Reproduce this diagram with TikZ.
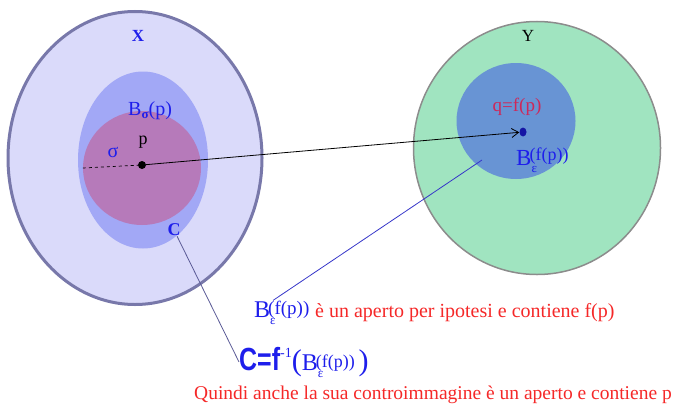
\documentclass[tikz,border=0pt]{standalone}
\usepackage{fontspec}
\setmainfont{Liberation Serif}
\newfontfamily\condsans[FakeStretch=0.78]{Liberation Sans}
\usetikzlibrary{arrows.meta, positioning, shapes.geometric}

\definecolor{setXfill}{RGB}{218,218,250}
\definecolor{setXline}{RGB}{120,120,170}
\definecolor{ballCfill}{RGB}{162,168,246}
\definecolor{ballSfill}{RGB}{182,122,186}
\definecolor{setYfill}{RGB}{160,228,192}
\definecolor{setYline}{RGB}{140,140,140}
\definecolor{ballEfill}{RGB}{104,148,212}
\definecolor{lblblue}{RGB}{30,30,235}
\definecolor{lblred}{RGB}{245,40,40}
\definecolor{qred}{RGB}{205,40,90}
\definecolor{linkblue}{RGB}{90,90,150}

\newcommand{\fs}[1]{\fontsize{#1}{#1}\selectfont}
\newcommand{\Beps}[3]{B\rlap{\raisebox{-#2pt}{\fs{13}ε}}\kern-2pt\raisebox{#3pt}{\fs{#1}(f(p))}}

\begin{document}
\begin{tikzpicture}[
    x=1pt, y=-1pt,
    set/.style={ellipse, inner sep=0pt},
    lbl/.style={inner sep=0pt, text=lblblue},
    link/.style={draw=linkblue, line width=0.8pt},
    maparrow/.style={-{Straight Barb[length=7pt, width=9pt]}, line width=0.8pt}
]
    \useasboundingbox (0,0) rectangle (679,404);

    % spazio X
    \node[set, draw=setXline, line width=3pt, fill=setXfill, minimum width=254pt, minimum height=293pt] (X) at (135,158) {};
    \node[set, fill=ballCfill, minimum width=130pt, minimum height=177pt] (C) at (143,160) {};
    \node[set, fill=ballSfill, minimum width=118pt, minimum height=114pt] (Bs) at (142,168) {};
    \node[circle, fill=black, inner sep=0pt, minimum size=8pt] (p) at (142,165) {};
    \draw[dashed, line width=0.7pt] (Bs.west) -- (p);

    \node[lbl, font=\fs{17}\bfseries] (Xlab) at (138,36) {X};
    \node[lbl, font=\fs{20}, anchor=base west] (Bslab) at (128,115) {B\raisebox{-3pt}{\fs{13}\bfseries σ}(p)};
    \node[lbl, font=\fs{20}] (sig) at (113,152) {σ};
    \node[inner sep=0pt, font=\fs{18}] (plab) at (143,142) {p};
    \node[lbl, font=\fs{18}\bfseries] (Clab) at (174,230) {C};

    % spazio Y
    \node[set, draw=setYline, line width=1.5pt, fill=setYfill, minimum width=247pt, minimum height=253pt] (Y) at (537,148) {};
    \node[set, fill=ballEfill, minimum width=119pt, minimum height=116pt] (Be) at (516,121) {};
    \node[ellipse, fill=lblblue!70!black, inner sep=0pt, minimum width=7pt, minimum height=9pt] (q) at (523,132) {};
    \coordinate (tip) at (482,160);

    \node[inner sep=0pt, font=\fs{17}] (Ylab) at (528,36) {Y};
    \node[inner sep=0pt, text=qred, font=\fs{19}] (qlab) at (517,107) {q=f(p)};
    \node[lbl, font=\fs{23}, anchor=base west] (Belab) at (516,165) {\Beps{18}{7}{5}};

    \draw[maparrow] (p) -- (q);

    % testi in basso
    \node[lbl, font=\fs{24}, anchor=base west] (Btxt) at (254,317) {\Beps{19}{7}{3}};
    \node[inner sep=0pt, text=lblred, font=\fs{20}, anchor=base west] (Btesto) at (315,317) {è un aperto per ipotesi e contiene f(p)};

    \node[lbl, font=\fs{24}, anchor=base west] (Cinv) at (239,370) {{\condsans\fs{32}\bfseries C=f}\raisebox{13pt}{\fs{14}-1}{\fs{30}(}\Beps{18}{7}{3}\,{\fs{30})}};
    \node[inner sep=0pt, text=lblred, font=\fs{19.5}, anchor=base west] (Ctesto) at (194,399) {Quindi anche la sua controimmagine è un aperto e contiene p};

    \draw[link] (Clab) -- (Cinv.west);
    \draw[link, draw=lblblue!60!linkblue] (tip) -- ([xshift=19pt]Btxt.north west);
\end{tikzpicture}
\end{document}
